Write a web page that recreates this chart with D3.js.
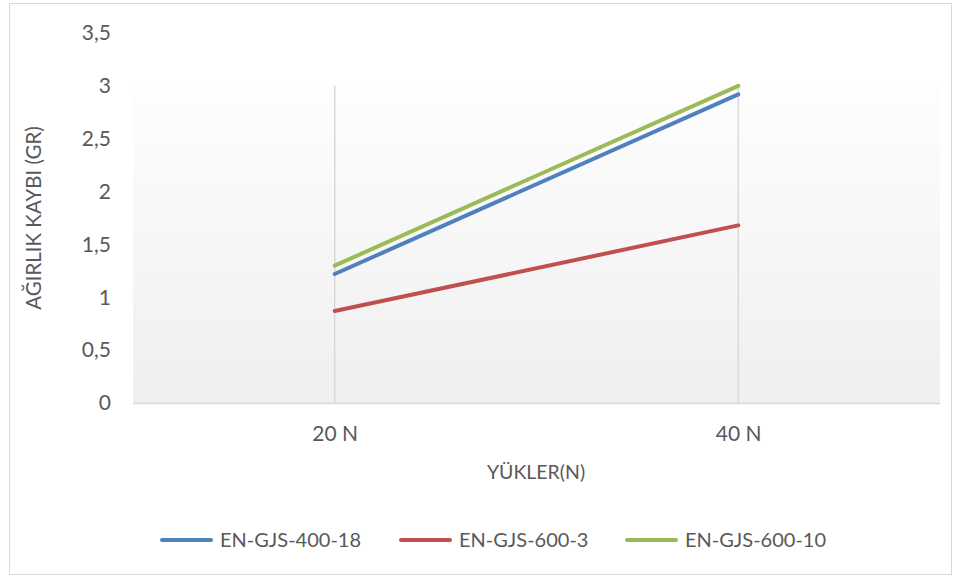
<!DOCTYPE html>
<html>
<head>
<meta charset="utf-8">
<script src="https://cdn.jsdelivr.net/npm/d3@7/dist/d3.min.js"></script>
<style>
  html, body { margin: 0; padding: 0; background: #ffffff; }
  svg { display: block; font-family: "Lato", "Open Sans", sans-serif; }
</style>
</head>
<body>
<svg id="chart" width="960" height="578"></svg>
<script>
// Loads on the specimen and weight loss per alloy
const categories = ["20 N", "40 N"];
const seriesNames = ["EN-GJS-400-18", "EN-GJS-600-3", "EN-GJS-600-10"];
const seriesColors = ["#4f81bd", "#c0504d", "#9bbb59"];
const values400_18 = [1.22, 2.92];
const values600_3 = [0.87, 1.68];
const values600_10 = [1.30, 3.00];
const yTicks = [0, 0.5, 1, 1.5, 2, 2.5, 3, 3.5];

const seriesValues = [values400_18, values600_3, values600_10];

const svg = d3.select("#chart");
const textColor = "#595959";

// Outer chart frame
svg.append("rect")
  .attr("x", 9.5).attr("y", 3.5)
  .attr("width", 942).attr("height", 571)
  .attr("fill", "#ffffff")
  .attr("stroke", "#d9d9d9").attr("stroke-width", 1);

const plotLeft = 133, plotRight = 940, plotTop = 33, plotBottom = 403;

const x = d3.scalePoint().domain(categories).range([plotLeft, plotRight]).padding(0.5);
const y = d3.scaleLinear().domain([0, 3.5]).range([plotBottom, plotTop]);

// Plot area with soft vertical gradient
const defs = svg.append("defs");
const grad = defs.append("linearGradient")
  .attr("id", "plotGrad").attr("x1", 0).attr("y1", 0).attr("x2", 0).attr("y2", 1);
grad.append("stop").attr("offset", "0%").attr("stop-color", "#fefefe");
grad.append("stop").attr("offset", "100%").attr("stop-color", "#efefef");

svg.append("rect")
  .attr("x", plotLeft).attr("y", 80)
  .attr("width", plotRight - plotLeft).attr("height", plotBottom - 80)
  .attr("fill", "url(#plotGrad)");

// Vertical drop lines at each category
svg.append("g")
  .selectAll("line")
  .data(categories)
  .join("line")
  .attr("x1", d => x(d)).attr("x2", d => x(d))
  .attr("y1", y(3)).attr("y2", plotBottom)
  .attr("stroke", "#d9d9d9").attr("stroke-width", 1.5);

// Y axis labels
const yAxis = d3.axisLeft(y).tickValues(yTicks)
  .tickFormat(d => String(d).replace(".", ","))
  .tickSize(0).tickPadding(0);
const gy = svg.append("g").attr("transform", `translate(${plotLeft - 22},0)`).call(yAxis);
gy.select(".domain").remove();
gy.selectAll("text").attr("fill", textColor).attr("font-size", 21).attr("font-family", "Lato, sans-serif");

// X axis
const xAxis = d3.axisBottom(x).tickSize(0).tickPadding(0);
const gx = svg.append("g").attr("transform", `translate(0,${plotBottom})`).call(xAxis);
gx.select(".domain").attr("stroke", "#d9d9d9").attr("stroke-width", 1.5)
  .attr("d", `M${plotLeft},0.5H${plotRight}`);
gx.selectAll("text").attr("fill", textColor).attr("font-size", 21)
  .attr("font-family", "Lato, sans-serif").attr("y", 38).attr("dy", 0);

// Axis titles
svg.append("text")
  .attr("x", 536).attr("y", 479)
  .attr("text-anchor", "middle").attr("fill", textColor).attr("font-size", 19.5)
  .text("YÜKLER(N)");

svg.append("text")
  .attr("transform", `translate(41,218) rotate(-90)`)
  .attr("text-anchor", "middle").attr("fill", textColor).attr("font-size", 20.5)
  .text("AĞIRLIK KAYBI (GR)");

// Series lines
const line = d3.line().x((d, i) => x(categories[i])).y(d => y(d));
svg.append("g")
  .selectAll("path")
  .data(seriesValues)
  .join("path")
  .attr("d", d => line(d))
  .attr("fill", "none")
  .attr("stroke", (d, i) => seriesColors[i])
  .attr("stroke-width", 4)
  .attr("stroke-linecap", "round");

// Legend
const legendX = [160, 399, 625];
const legend = svg.append("g")
  .selectAll("g")
  .data(seriesNames)
  .join("g")
  .attr("transform", (d, i) => `translate(${legendX[i]},540)`);
legend.append("line")
  .attr("x1", 2).attr("x2", 51).attr("y1", 0).attr("y2", 0)
  .attr("stroke", (d, i) => seriesColors[i]).attr("stroke-width", 4)
  .attr("stroke-linecap", "round");
legend.append("text")
  .attr("x", 60).attr("y", 0).attr("dy", "0.36em")
  .attr("fill", textColor).attr("font-size", 20)
  .text(d => d);
</script>
</body>
</html>
